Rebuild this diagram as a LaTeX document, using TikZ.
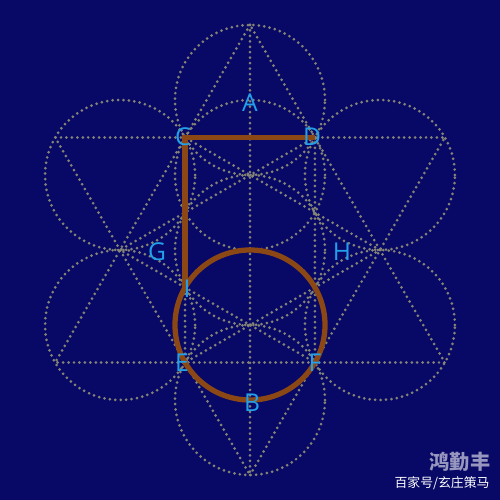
\documentclass[tikz,border=0pt]{standalone}
\usepackage{fontspec}
\newfontfamily\labelfont{Open Sans}
\newfontfamily\cjk{Noto Sans CJK SC}
\definecolor{bgnavy}{RGB}{8,8,102}
\definecolor{dotgrey}{RGB}{132,132,118}
\definecolor{rodbrown}{RGB}{140,72,20}
\definecolor{lblblue}{RGB}{34,160,235}
\definecolor{wmgrey}{RGB}{150,150,190}
\tikzset{
  dotline/.style={dotgrey, line width=1.7pt, line cap=round, dash pattern=on 0pt off 3.1pt},
  rod/.style={rodbrown, line width=3pt},
  lbl/.style={text=lblblue, font=\labelfont\fontsize{14}{14}\selectfont, inner sep=0pt},
}
\begin{document}
\begin{tikzpicture}
  \fill[bgnavy] (-5,-5) rectangle (5,5);
  \useasboundingbox (-5,-5) rectangle (5,5);
  % drawing the dotted circles
  \foreach \t in {30,90,...,330} {\draw[dotline] (\t:3) circle (1.5);}
  \foreach \y in {0,1.5} {\draw[dotline] (0,\y) circle (1.5);}
  % the two stars and the axis
  \foreach \t in {90,270} {\draw[dotline] (\t:4.5) -- (\t+120:4.5) -- (\t+240:4.5) -- cycle;}
  \foreach \t in {0,60} {\draw[dotline] (\t:2.598) -- (\t+120:2.598) -- (\t+240:2.598) -- cycle;}
  \draw[dotline] (90:4.5) -- (270:4.5);
  % points on the path
  \coordinate (C) at (120:2.598);
  \coordinate (D) at (60:2.598);
  \coordinate (I) at (-1.299,-0.75);
  \coordinate (ring) at (0,-1.5);
  \draw[rod] (D) -- (C) -- (I);
  \draw[rod] (ring) circle (1.5);
  % labelling them
  \node[lbl] (lblA) at (0,2.94) {A};
  \node[lbl] (lblC) at (-1.34,2.26) {C};
  \node[lbl] (lblD) at (1.24,2.26) {D};
  \node[lbl] (lblG) at (-1.86,-0.04) {G};
  \node[lbl] (lblH) at (1.84,-0.04) {H};
  \node[lbl] (lblI) at (-1.26,-0.78) {I};
  \node[lbl] (lblE) at (-1.36,-2.26) {E};
  \node[lbl] (lblF) at (1.3,-2.26) {F};
  \node[lbl] (lblB) at (0.04,-3.06) {B};
  % watermark
  \node[font=\cjk\bfseries\fontsize{11.5}{12}\selectfont, text=wmgrey] (wmA) at (4.2,-4.24) {鸿勤丰};
  \node[font=\cjk\fontsize{7.3}{8}\selectfont, text=white] (wmB) at (3.84,-4.66) {百家号/玄庄策马};
\end{tikzpicture}
\end{document}
